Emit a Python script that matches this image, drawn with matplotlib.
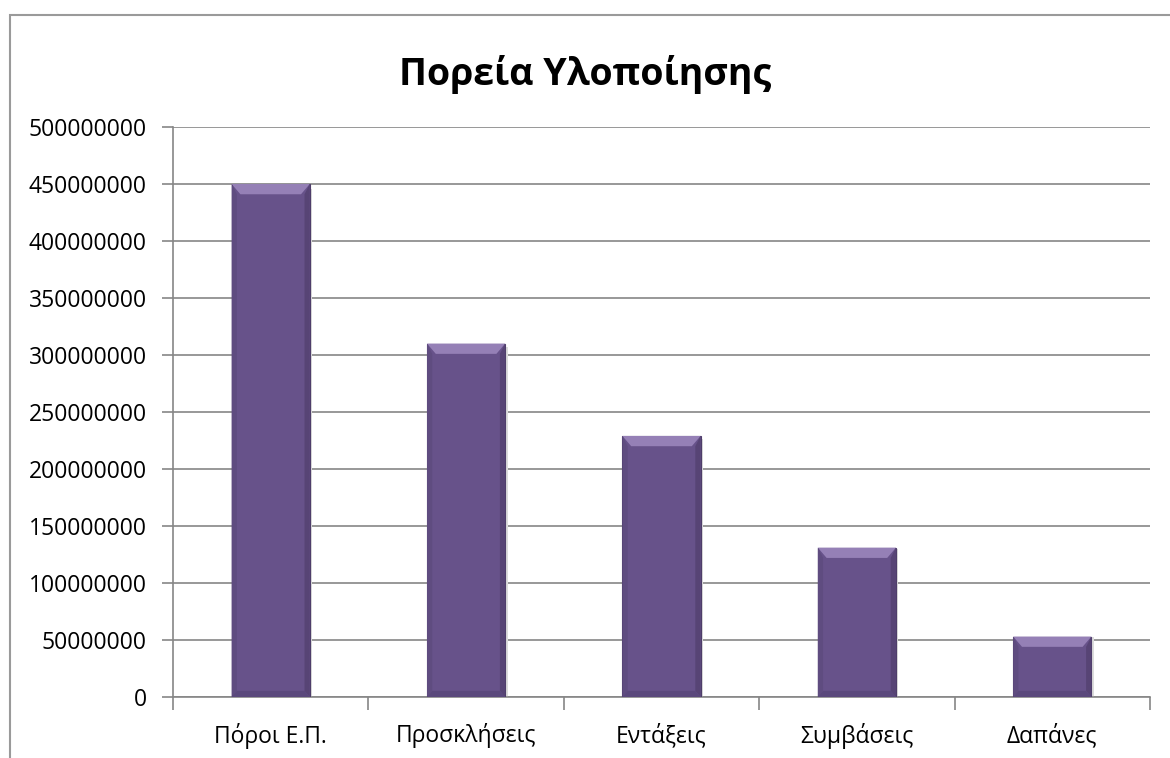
import matplotlib
matplotlib.use("Agg")
import matplotlib.pyplot as plt
from matplotlib.patches import Rectangle, Polygon
import numpy as np

plt.rcParams['font.family'] = ['Open Sans', 'DejaVu Sans']

categories = ['Πόροι Ε.Π.', 'Προσκλήσεις', 'Εντάξεις', 'Συμβάσεις', 'Δαπάνες']
values = [450000000, 310000000, 229000000, 131000000, 53000000]
yticks = np.arange(0, 500000001, 50000000)
title = 'Πορεία Υλοποίησης'

W, H = 1170, 758
fig = plt.figure(figsize=(W / 100, H / 100), dpi=100)
fig.patch.set_facecolor('white')

# outer chart frame (runs past the image edge at right and bottom)
fig.patches.append(Rectangle((10 / W, -0.1), 1.2, 1 - 15 / H + 0.1,
                             transform=fig.transFigure, fill=False,
                             edgecolor='#9a9a9a', linewidth=1.5))

ax = fig.add_axes([173 / W, 1 - 697 / H, (1150 - 173) / W, (697 - 127) / H])
ax.set_xlim(0, len(categories))
ax.set_ylim(0, 500000000)

grey = '#868686'
ax.set_yticks(yticks)
ax.set_yticklabels([str(v) for v in yticks], fontsize=16.5)
ax.yaxis.grid(True, color=grey, linewidth=1.2)
ax.set_axisbelow(True)
ax.tick_params(axis='y', length=8, width=1.2, color=grey, pad=11)

# category boundary ticks + centered labels
ax.set_xticks(np.arange(len(categories) + 1))
ax.set_xticklabels([])
ax.set_xticks(np.arange(len(categories)) + 0.5, minor=True)
ax.set_xticklabels(categories, minor=True, fontsize=16.5)
ax.tick_params(axis='x', which='major', length=9, width=1.2, color=grey)
ax.tick_params(axis='x', which='minor', length=0, pad=19)

for s in ['top', 'right']:
    ax.spines[s].set_visible(False)
ax.spines['left'].set_color(grey)
ax.spines['bottom'].set_color(grey)
ax.spines['left'].set_linewidth(1.2)
ax.spines['bottom'].set_linewidth(1.2)

x = np.arange(len(categories)) + 0.5
bw = 0.4
base = '#67528A'
bars = ax.bar(x, values, width=bw, color=base, edgecolor='#4e3d6a',
              linewidth=0.8, zorder=3)

# bevel effect: lighter top, darker right and bottom edges
dx = 0.045
dy = 9000000
for b in bars:
    x0 = b.get_x()
    x1 = x0 + b.get_width()
    h = b.get_height()
    ax.add_patch(Polygon([[x0, h], [x1, h], [x1 - dx, h - dy], [x0 + dx, h - dy]],
                         closed=True, facecolor='#9580b6', edgecolor='none', zorder=4))
    ax.add_patch(Polygon([[x1, h], [x1, 0], [x1 - dx * 0.6, dy * 0.6], [x1 - dx * 0.6, h - dy]],
                         closed=True, facecolor='#574475', edgecolor='none', zorder=4))
    ax.add_patch(Polygon([[x0, h], [x0, 0], [x0 + dx * 0.6, dy * 0.6], [x0 + dx * 0.6, h - dy]],
                         closed=True, facecolor='#5f4c80', edgecolor='none', zorder=4))
    ax.add_patch(Polygon([[x0, 0], [x1, 0], [x1 - dx * 0.6, dy * 0.6], [x0 + dx * 0.6, dy * 0.6]],
                         closed=True, facecolor='#5a487c', edgecolor='none', zorder=4))
    # soft shadow to the right
    ax.add_patch(Rectangle((x1, 0), 0.012, h * 0.99, facecolor='#dcdcdc',
                           edgecolor='none', zorder=2))

fig.text(0.5, 1 - 74 / H, title, ha='center', va='center',
         fontsize=27, fontweight='bold')

fig.savefig('out.png', dpi=100)
